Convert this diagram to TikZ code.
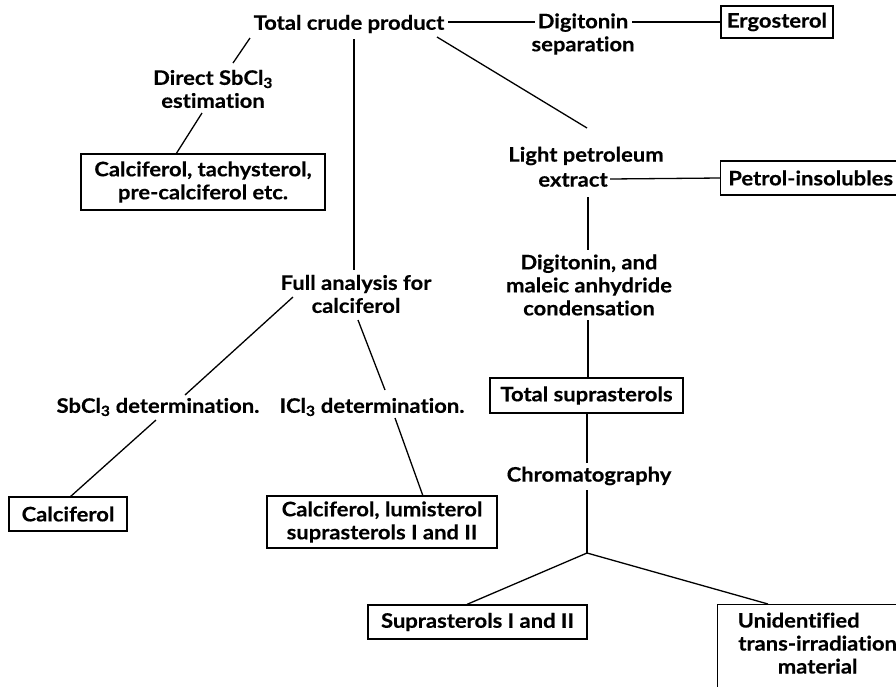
\documentclass[tikz,border=0pt]{standalone}
\usepackage{fontspec}
\setmainfont{Lato}[Ligatures=NoCommon, FakeStretch=1.1, BoldFeatures={FakeBold=0.4}]
\usetikzlibrary{calc}
\tikzset{
  lbl/.style={inner sep=0pt, align=center, font=\bfseries\fontsize{20}{23}\selectfont},
  bx/.style={lbl, draw, line width=1.3pt, inner xsep=6pt, inner ysep=5pt},
  con/.style={line width=1.3pt},
}
\begin{document}
\begin{tikzpicture}[x=1pt,y=-1pt]
\useasboundingbox (0,0) rectangle (896,686);
\clip (0,0) rectangle (896,686);
% text nodes
\node[lbl] (tcp) at (349,24) {Total crude product};
\node[lbl] (dig) at (583,34) {Digitonin\\separation};
\node[lbl] (dse) at (213,89) {Direct SbCl\textsubscript{3}\\estimation};
\node[lbl] (lp) at (586,156) {Light petroleum};
\node[lbl] (ex) at (573,180) {extract};
\node[lbl] (fac) at (356,294) {Full analysis for\\calciferol};
\node[lbl] (dmc) at (589,285) {Digitonin, and\\maleic anhydride\\condensation};
\node[lbl] (chrom) at (589,476) {Chromatography};
\node[lbl] (sbd) at (158,407) {SbCl\textsubscript{3} determination.};
\node[lbl] (icd) at (372,407) {ICl\textsubscript{3} determination.};
\coordinate (br) at (587,553);
% boxes
\node[bx, minimum width=112pt, minimum height=32pt] (ergo) at (777,22) {Ergosterol};
\node[bx, minimum width=244pt, minimum height=56pt] (ctp) at (203,182) {Calciferol, tachysterol,\\pre-calciferol etc.};
\node[bx, anchor=west, minimum width=190pt, minimum height=34pt] (pins) at (720,178) {Petrol-insolubles\hspace*{10pt}};
\node[bx, minimum width=193pt, minimum height=35pt] (tsup) at (586.5,395.5) {Total suprasterols};
\node[bx, minimum width=118pt, minimum height=34pt] (calc) at (68,514) {Calciferol};
\node[bx, minimum width=230pt, minimum height=52pt] (cls) at (382,522) {Calciferol, lumisterol\\suprasterols I and II};
\node[bx, minimum width=219pt, minimum height=34pt] (sup) at (477.5,622) {Suprasterols I and II};
\node[bx, anchor=north west, minimum width=200pt, inner ysep=8pt] (unid) at (717,604) {Unidentified\hspace*{38pt}\\trans-irradiation\hspace*{38pt}\\material\hspace*{38pt}\\~};
% connectors
\draw[con] ($(tcp)+(99,-2)$) -- ($(dig)+(-48,-12)$);
\draw[con] ($(dig)+(49,-12)$) -- (ergo.west);
\draw[con] ($(tcp)+(-99,14)$) -- ($(dse)+(20,-26)$);
\draw[con] ($(dse)+(-11,24)$) -- ($(ctp)+(-27,-28)$);
\draw[con] ($(tcp)+(5,15)$) -- ($(fac)+(-2,-24)$);
\draw[con] ($(tcp)+(88,13)$) -- ($(lp)+(1,-28)$);
\draw[con] ($(ex)+(37,-1)$) -- (pins.west);
\draw[con] ($(ex)+(15,17)$) -- ($(dmc)+(-1,-35)$);
\draw[con] ($(dmc)+(-1,35)$) -- ($(tsup.north)+(1.5,0)$);
\draw[con] ($(tsup.south)+(0.5,0)$) -- ($(chrom)+(-2,-13)$);
\draw[con] ($(chrom)+(-2,14)$) -- (br);
\draw[con] (br) -- ($(sup.north)+(-10.5,0)$);
\draw[con] (br) -- ($(unid.north west)+(51,0)$);
\draw[con] ($(fac)+(-63,3)$) -- ($(sbd)+(27,-12)$);
\draw[con] ($(fac)+(2,26)$) -- ($(icd)+(13,-17)$);
\draw[con] ($(sbd)+(-2,13)$) -- ($(calc)+(2,-17)$);
\draw[con] ($(icd)+(23,11)$) -- ($(cls)+(41,-26)$);
\end{tikzpicture}
\end{document}
